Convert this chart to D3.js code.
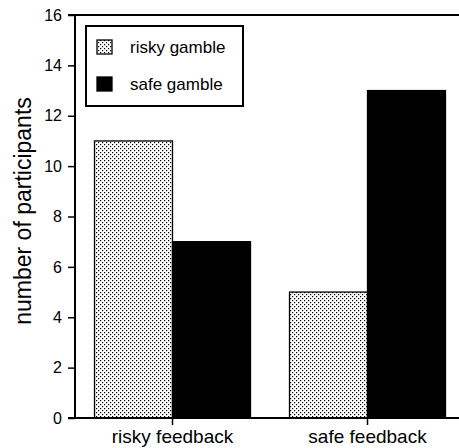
<!DOCTYPE html>
<html>
<head>
<meta charset="utf-8">
<script src="https://cdn.jsdelivr.net/npm/d3@7"></script>
<style>
  html, body { margin: 0; padding: 0; background: #fff; }
  svg { display: block; font-family: "Liberation Sans", Arial, Helvetica, sans-serif; }
</style>
</head>
<body>
<svg id="chart" width="459" height="448"></svg>
<script>
const categories = ["risky feedback", "safe feedback"];
const seriesNames = ["risky gamble", "safe gamble"];
const riskyGamble = [11, 5];
const safeGamble = [7, 13];
const yTicks = [0, 2, 4, 6, 8, 10, 12, 14, 16];
const yTitle = "number of participants";

(function () {
const svg = d3.select("#chart");
const mLeft = 75, mTop = 15, mBottom = 418, mRight = 459;

const defs = svg.append("defs");
const pat = defs.append("pattern")
  .attr("id", "stipple").attr("patternUnits", "userSpaceOnUse")
  .attr("width", 4).attr("height", 4);
pat.append("rect").attr("width", 4).attr("height", 4).attr("fill", "#fff");
pat.append("rect").attr("x", 0).attr("y", 0).attr("width", 1.2).attr("height", 1.2).attr("fill", "#000");
pat.append("rect").attr("x", 2).attr("y", 2).attr("width", 1.2).attr("height", 1.2).attr("fill", "#000");

const fills = ["url(#stipple)", "#000"];
const seriesValues = [riskyGamble, safeGamble];

const y = d3.scaleLinear().domain([0, 16]).range([mBottom, mTop]);
const x = d3.scaleBand().domain(categories).range([mLeft, 465]).paddingInner(0.2).paddingOuter(0.1);
const xs = d3.scaleBand().domain(seriesNames).range([0, x.bandwidth()]).padding(0);

// bars
const data = [];
categories.forEach((c, i) => {
  seriesNames.forEach((s, j) => data.push({ cat: c, ser: s, val: seriesValues[j][i], fill: fills[j] }));
});
svg.append("g").selectAll("rect").data(data).join("rect")
  .attr("x", d => x(d.cat) + xs(d.ser))
  .attr("y", d => y(d.val))
  .attr("width", xs.bandwidth())
  .attr("height", d => y(0) - y(d.val))
  .attr("fill", d => d.fill)
  .attr("stroke", "#000")
  .attr("stroke-width", 1.3);

// top line and bottom line
svg.append("line").attr("x1", 68).attr("x2", mRight).attr("y1", y(16)).attr("y2", y(16))
  .attr("stroke", "#000").attr("stroke-width", 2);
svg.append("line").attr("x1", 68).attr("x2", mRight).attr("y1", y(0)).attr("y2", y(0))
  .attr("stroke", "#000").attr("stroke-width", 2);

// y axis
const yAxis = svg.append("g").attr("transform", `translate(${mLeft},0)`)
  .call(d3.axisLeft(y).tickValues(yTicks).tickSize(7).tickPadding(6).tickFormat(d3.format("d")));
yAxis.select(".domain").attr("stroke-width", 2).attr("d", `M0,${y(16)}V${y(0)}`);
yAxis.selectAll(".tick line").attr("stroke-width", 1.5);
yAxis.selectAll(".tick text").attr("font-size", 16).attr("fill", "#000")
  .attr("font-family", "Liberation Sans, Arial, sans-serif");

// x axis
const xAxis = svg.append("g").attr("transform", `translate(0,${mBottom})`)
  .call(d3.axisBottom(x).tickSize(7).tickPadding(5));
xAxis.select(".domain").remove();
xAxis.selectAll(".tick line").attr("stroke-width", 1.5);
xAxis.selectAll(".tick text").attr("font-size", 19).attr("fill", "#000")
  .attr("font-family", "Liberation Sans, Arial, sans-serif");

// y title
svg.append("text")
  .attr("transform", `translate(31,${(95 + 327) / 2}) rotate(-90)`)
  .attr("text-anchor", "middle")
  .attr("font-size", 23)
  .text(yTitle);

// legend
const lg = svg.append("g");
lg.append("rect").attr("x", 86).attr("y", 26).attr("width", 157).attr("height", 80)
  .attr("fill", "#fff").attr("stroke", "#000").attr("stroke-width", 2);
seriesNames.forEach((s, i) => {
  const yy = 40 + i * 37;
  lg.append("rect").attr("x", 97).attr("y", yy).attr("width", 15).attr("height", 14)
    .attr("fill", fills[i]).attr("stroke", "#000").attr("stroke-width", 1.3);
  lg.append("text").attr("x", 130).attr("y", yy + 13).attr("font-size", 17).text(s);
});
})();
</script>
</body>
</html>
